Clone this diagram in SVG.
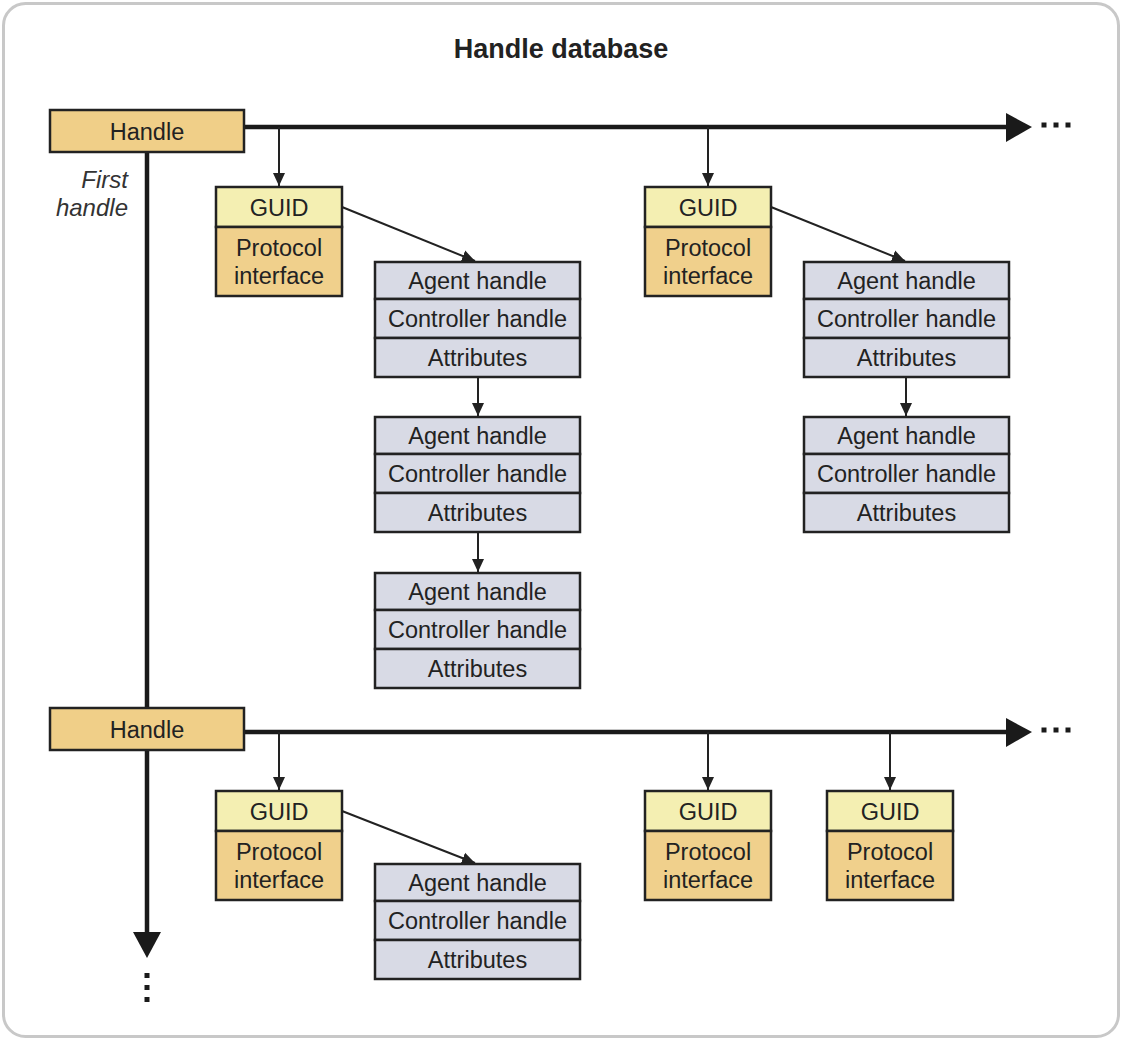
<svg xmlns="http://www.w3.org/2000/svg" width="1122" height="1041" viewBox="0 0 1122 1041">
<style>
.t{font-family:"Liberation Sans",Arial,sans-serif;font-size:23.5px;fill:#222;text-anchor:middle}
.title{font-family:"Liberation Sans",Arial,sans-serif;font-size:27px;font-weight:bold;fill:#222;text-anchor:middle}
.it{font-family:"Liberation Sans",Arial,sans-serif;font-size:24px;font-style:italic;fill:#333;text-anchor:end}
.box{stroke:#222;stroke-width:2.5}
.hdl{fill:#f0cf88}
.guid{fill:#f4efb2}
.prot{fill:#f0d08c}
.agent{fill:#d8dae5}
.thin{stroke:#222;stroke-width:2;fill:none}
.thick{stroke:#1a1a1a;stroke-width:4.5;fill:none}
.dot{fill:#1a1a1a}
</style>
<defs>
<marker id="sa" markerUnits="userSpaceOnUse" markerWidth="14" markerHeight="14" viewBox="0 0 14 14" refX="13" refY="7" orient="auto">
<path d="M0,1 L13,7 L0,13 Z" fill="#222"/>
</marker>
<g id="guidbox">
<rect class="box guid" x="0" y="0" width="126" height="40"/>
<rect class="box prot" x="0" y="40" width="126" height="69"/>
<text class="t" x="63" y="29">GUID</text>
<text class="t" x="63" y="69">Protocol</text>
<text class="t" x="63" y="97">interface</text>
</g>
<g id="agentbox">
<rect class="box agent" x="0" y="0" width="205" height="37"/>
<rect class="box agent" x="0" y="37" width="205" height="39"/>
<rect class="box agent" x="0" y="76" width="205" height="39"/>
<text class="t" x="102.5" y="27">Agent handle</text>
<text class="t" x="102.5" y="65">Controller handle</text>
<text class="t" x="102.5" y="104">Attributes</text>
</g>
</defs>
<rect x="3.5" y="3.5" width="1115" height="1033" rx="22" fill="#fff" stroke="#c8c8c8" stroke-width="3"/>
<text class="title" x="561" y="58">Handle database</text>

<g id="connectors">
<line class="thick" x1="147" y1="152" x2="147" y2="934"/>
<path d="M133,932 L161,932 L147,958 Z" fill="#1a1a1a"/>
<rect class="dot" x="144.5" y="973" width="5" height="5"/>
<rect class="dot" x="144.5" y="985" width="5" height="5"/>
<rect class="dot" x="144.5" y="997" width="5" height="5"/>

<line class="thick" x1="244" y1="127" x2="1008" y2="127"/>
<path d="M1006,113 L1032,127 L1006,142 Z" fill="#1a1a1a"/>
<rect class="dot" x="1041.5" y="122.5" width="5" height="5"/>
<rect class="dot" x="1053.5" y="122.5" width="5" height="5"/>
<rect class="dot" x="1065.5" y="122.5" width="5" height="5"/>

<line class="thick" x1="244" y1="732" x2="1008" y2="732"/>
<path d="M1006,718 L1032,732 L1006,747 Z" fill="#1a1a1a"/>
<rect class="dot" x="1041.5" y="727.5" width="5" height="5"/>
<rect class="dot" x="1053.5" y="727.5" width="5" height="5"/>
<rect class="dot" x="1065.5" y="727.5" width="5" height="5"/>

<line class="thin" x1="279" y1="127" x2="279" y2="186" marker-end="url(#sa)"/>
<line class="thin" x1="708" y1="127" x2="708" y2="186" marker-end="url(#sa)"/>
<line class="thin" x1="342" y1="207" x2="475" y2="261" marker-end="url(#sa)"/>
<line class="thin" x1="771" y1="207" x2="905" y2="261" marker-end="url(#sa)"/>
<line class="thin" x1="478" y1="377" x2="478" y2="416" marker-end="url(#sa)"/>
<line class="thin" x1="478" y1="532" x2="478" y2="572" marker-end="url(#sa)"/>
<line class="thin" x1="906" y1="377" x2="906" y2="416" marker-end="url(#sa)"/>

<line class="thin" x1="279" y1="732" x2="279" y2="790" marker-end="url(#sa)"/>
<line class="thin" x1="708" y1="732" x2="708" y2="790" marker-end="url(#sa)"/>
<line class="thin" x1="890" y1="732" x2="890" y2="790" marker-end="url(#sa)"/>
<line class="thin" x1="342" y1="811" x2="475" y2="863" marker-end="url(#sa)"/>
</g>

<text class="it" x="128" y="188">First</text>
<text class="it" x="128" y="216">handle</text>

<g id="handle1">
<rect class="box hdl" x="50" y="110" width="194" height="42"/>
<text class="t" x="147" y="140">Handle</text>
</g>
<g id="handle2">
<rect class="box hdl" x="50" y="708" width="194" height="42"/>
<text class="t" x="147" y="738">Handle</text>
</g>

<g id="guid1a"><use href="#guidbox" x="216" y="187"/></g>
<g id="guid1b"><use href="#guidbox" x="645" y="187"/></g>
<g id="guid2a"><use href="#guidbox" x="216" y="791"/></g>
<g id="guid2b"><use href="#guidbox" x="645" y="791"/></g>
<g id="guid2c"><use href="#guidbox" x="827" y="791"/></g>

<g id="agent1a"><use href="#agentbox" x="375" y="262"/></g>
<g id="agent1b"><use href="#agentbox" x="375" y="417"/></g>
<g id="agent1c"><use href="#agentbox" x="375" y="573"/></g>
<g id="agent2a"><use href="#agentbox" x="804" y="262"/></g>
<g id="agent2b"><use href="#agentbox" x="804" y="417"/></g>
<g id="agent3a"><use href="#agentbox" x="375" y="864"/></g>
</svg>
